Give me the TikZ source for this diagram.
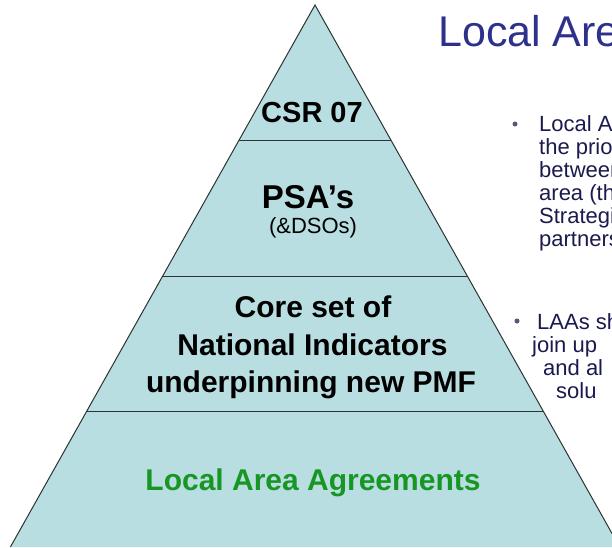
\documentclass[tikz,border=0pt]{standalone}
\usepackage{fontspec}
\setmainfont{Liberation Sans}
\usetikzlibrary{calc}
\definecolor{pyrfill}{RGB}{185,222,226}
\definecolor{edgegray}{RGB}{45,50,50}
\definecolor{titleblue}{RGB}{46,49,140}
\definecolor{bodyblue}{RGB}{26,26,78}
\definecolor{dotgray}{RGB}{85,85,125}
\definecolor{laagreen}{RGB}{24,150,36}
\tikzstyle{tier} = [anchor=base, inner sep=0pt,
   font=\bfseries\fontsize{30}{35}\selectfont]
\tikzstyle{bodytext} = [anchor=base west, inner sep=0pt, text=bodyblue,
   font=\fontsize{22}{24}\selectfont]
\tikzstyle{bulletdot} = [circle, fill=dotgray, inner sep=0pt, minimum size=5pt]

\begin{document}
\begin{tikzpicture}[x=1pt, y=-1pt]
  \useasboundingbox (0,0) rectangle (612,547);
  \clip (0,0) rectangle (612,547);
  % the pyramid
  \coordinate (apex) at (315,5);
  \coordinate (bl) at (10.4,547);
  \coordinate (br) at (619.6,547);
  \fill[pyrfill] (apex) -- (br) -- (bl) -- cycle;
  \draw[edgegray, line width=1pt] (bl) -- (apex) -- (br);
  \foreach \t in {0.25,0.5,0.75}
    \draw[edgegray, line width=1pt] ($(apex)!\t!(bl)$) -- ($(apex)!\t!(br)$);
  % tiers
  \node[tier, font=\bfseries\fontsize{29}{34}\selectfont] (csr) at (312,122) {CSR 07};
  \node[tier, font=\bfseries\fontsize{33}{38}\selectfont] (psa) at (308,208) {PSA’s};
  \node[anchor=base, inner sep=0pt, font=\fontsize{22}{25}\selectfont] (dso) at (313,233.5) {(\&DSOs)};
  \node[tier] (core) at (313,317) {Core set of};
  \node[tier] (natind) at (312.5,355) {National Indicators};
  \node[tier] (pmf) at (311,392) {underpinning new PMF};
  \node[tier, text=laagreen] (laa) at (313,490) {Local Area Agreements};
  % title and bullets
  \node[anchor=base west, inner sep=0pt, text=titleblue,
    font=\fontsize{43}{50}\selectfont] (title) at (438,46.5) {Local Are};
  \node[bulletdot] (dota) at (515,124) {};
  \foreach \ln [count=\i] in {Local A, the prio, between, area (th, Strategi, partners}
    \node[bodytext] (la-\i) at (539,{108+23*\i}) {\ln};
  \node[bulletdot] (dotb) at (517,321) {};
  \node[bodytext] (lb-1) at (537,329) {LAAs sh};
  \node[bodytext] (lb-2) at (532,352) {join up};
  \node[bodytext] (lb-3) at (543,375) {and al};
  \node[bodytext] (lb-4) at (556,398) {solu};
\end{tikzpicture}
\end{document}
